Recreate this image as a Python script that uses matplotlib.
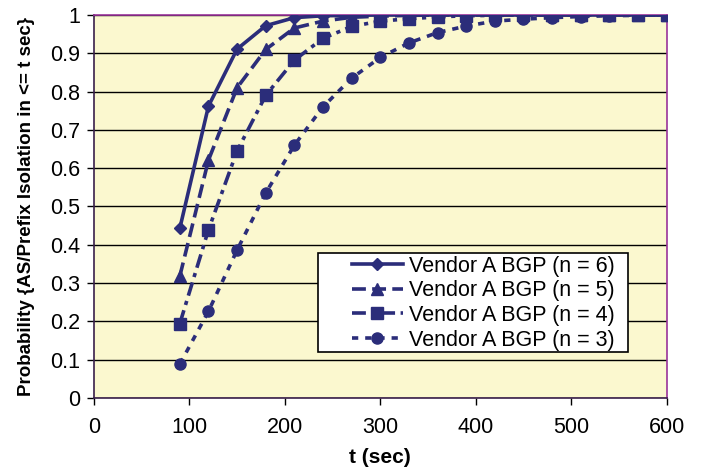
import matplotlib
matplotlib.use("Agg")
import matplotlib.pyplot as plt
from matplotlib.patches import Rectangle

plt.rcParams['font.family'] = ['Liberation Sans', 'DejaVu Sans']
plt.rcParams['lines.scale_dashes'] = False

t = [90, 120, 150, 180, 210, 240, 270, 300, 330, 360, 390, 420, 450, 480, 510, 540, 570, 600]
n6 = [0.443, 0.762, 0.911, 0.972, 0.993, 0.998, 0.999, 1, 1, 1, 1, 1, 1, 1, 1, 1, 1, 1]
n5 = [0.318, 0.621, 0.810, 0.910, 0.966, 0.984, 0.994, 0.997, 0.999, 1, 1, 1, 1, 1, 1, 1, 1, 1]
n4 = [0.194, 0.439, 0.645, 0.790, 0.882, 0.939, 0.970, 0.984, 0.990, 0.995, 0.998, 0.999, 1, 1, 1, 1, 1, 1]
n3 = [0.088, 0.226, 0.386, 0.535, 0.660, 0.760, 0.835, 0.889, 0.927, 0.954, 0.971, 0.984, 0.989, 0.993, 0.996, 0.998, 0.999, 1.0]
labels = ["Vendor A BGP (n = 6)", "Vendor A BGP (n = 5)", "Vendor A BGP (n = 4)", "Vendor A BGP (n = 3)"]

xticks = [0, 100, 200, 300, 400, 500, 600]
yticks = [0, 0.1, 0.2, 0.3, 0.4, 0.5, 0.6, 0.7, 0.8, 0.9, 1]
yticklabels = ["0", "0.1", "0.2", "0.3", "0.4", "0.5", "0.6", "0.7", "0.8", "0.9", "1"]

navy = '#2b2d7a'
fig = plt.figure(figsize=(7.01, 4.68), dpi=100)
ax = fig.add_axes([0.134, 0.150, 0.817, 0.818])
ax.set_facecolor('#fbf8cf')

ax.plot(t, n6, color=navy, lw=2.6, marker='D', ms=6.5, label=labels[0], zorder=5)
l5, = ax.plot(t, n5, color=navy, lw=2.6, marker='^', ms=8.5, label=labels[1], zorder=5)
l5.set_dashes([10, 4.5])
l4, = ax.plot(t, n4, color=navy, lw=2.6, marker='s', ms=8, label=labels[2], zorder=5)
l4.set_dashes([10, 4, 3, 4])
l3, = ax.plot(t, n3, color=navy, lw=2.6, marker='o', ms=8, label=labels[3], zorder=5)
l3.set_dashes([4.5, 5])

ax.set_xlim(0, 600)
ax.set_ylim(0, 1)
ax.set_xticks(xticks)
ax.set_yticks(yticks)
ax.set_yticklabels(yticklabels)
ax.tick_params(labelsize=15.5, direction='out', length=5, width=1, color='black')
ax.tick_params(axis='x', pad=9)
ax.tick_params(axis='y', pad=5)
ax.grid(axis='y', color='black', lw=1)
ax.set_axisbelow(True)

for s in ['left', 'bottom']:
    ax.spines[s].set_color('#3a1f4a')
    ax.spines[s].set_linewidth(1.2)
for s in ['top', 'right']:
    ax.spines[s].set_color('#993399')
    ax.spines[s].set_linewidth(1.2)

ax.set_xlabel("t (sec)", fontsize=15, fontweight='bold', labelpad=7)
ax.set_ylabel("Probability {AS/Prefix Isolation in <= t sec}", fontsize=13.5, fontweight='bold', labelpad=11)

# legend frame (Excel-style box with extra left margin)
box = Rectangle((0.391, 0.120), 0.541, 0.259, transform=ax.transAxes,
                facecolor='white', edgecolor='black', lw=1.2, zorder=9)
ax.add_patch(box)
leg = ax.legend(loc='center left', bbox_to_anchor=(0.450, 0.2475), borderaxespad=0,
                fontsize=15.5, handlelength=2.4, handletextpad=0.25, labelspacing=0.17,
                borderpad=0, frameon=False)
leg.set_zorder(10)

fig.savefig("out.png", dpi=100)
